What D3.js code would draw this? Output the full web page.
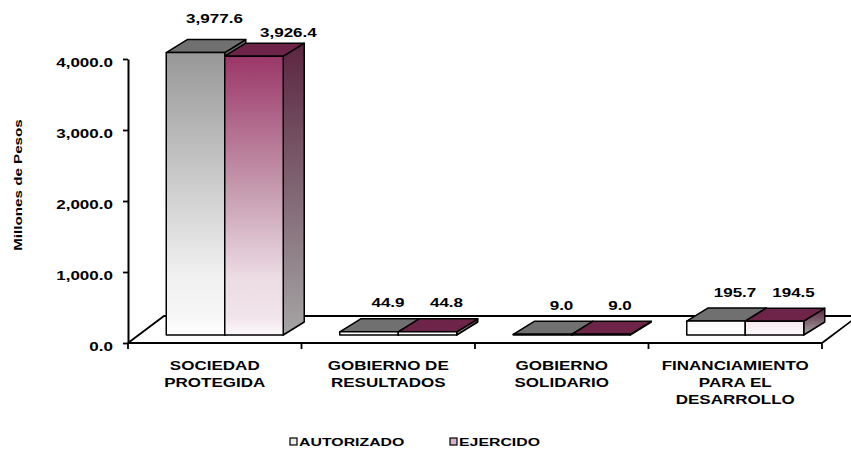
<!DOCTYPE html>
<html>
<head>
<meta charset="utf-8">
<script src="https://cdn.jsdelivr.net/npm/d3@7/dist/d3.min.js"></script>
<style>
  html, body { margin: 0; padding: 0; background: #fff; }
  svg { display: block; }
  text { font-family: "Liberation Sans", Arial, sans-serif; font-weight: bold; fill: #000; }
</style>
</head>
<body>
<svg id="chart" width="851" height="451"></svg>
<script>
// ---- data ----
const categories = ["SOCIEDAD PROTEGIDA", "GOBIERNO DE RESULTADOS", "GOBIERNO SOLIDARIO", "FINANCIAMIENTO PARA EL DESARROLLO"];
const categoryLines = [["SOCIEDAD", "PROTEGIDA"], ["GOBIERNO DE", "RESULTADOS"], ["GOBIERNO", "SOLIDARIO"], ["FINANCIAMIENTO", "PARA EL", "DESARROLLO"]];
const seriesNames = ["AUTORIZADO", "EJERCIDO"];
const autorizado = [3977.6, 44.9, 9.0, 195.7];
const ejercido = [3926.4, 44.8, 9.0, 194.5];
const yTicks = [0, 1000, 2000, 3000, 4000];
const yTitle = "Millones de Pesos";

// ---- layout ----
const svg = d3.select("#chart");
const SX = 1.42; // horizontal text stretch
const x = d3.scaleBand().domain(categories).range([128, 822]);
const y = d3.scaleLinear().domain([0, 4000]).range([343, 59]);
const xs = d3.scaleBand().domain(seriesNames).range([-58.5, 58.5]);
const floorD = { dx: 36, dy: -27 };   // floor depth
const barOff = { dx: 10, dy: -8 };    // bar front offset from front plane
const barD = { dx: 21, dy: -13 };     // bar depth

const defs = svg.append("defs");
function grad(id, stops, user) {
  const g = defs.append("linearGradient").attr("id", id)
    .attr("x1", 0).attr("x2", 0);
  if (user) {
    g.attr("gradientUnits", "userSpaceOnUse")
      .attr("y1", y(4000) + barOff.dy).attr("y2", y(0) + barOff.dy);
  } else {
    g.attr("y1", 0).attr("y2", 1);
  }
  stops.forEach(([o, c]) => g.append("stop").attr("offset", o).attr("stop-color", c));
}
grad("frontA", [[0, "#979797"], [0.5, "#d0d0d0"], [0.8, "#f1f1f1"], [0.93, "#f6f6f6"], [1, "#ffffff"]], true);
grad("frontE", [[0, "#993366"], [0.5, "#c79db1"], [0.8, "#ecdce4"], [0.93, "#f1e3ea"], [1, "#fcf7fa"]], true);
grad("sideA", [[0, "#6a6a6a"], [1, "#a6a6a6"]], false);
grad("sideE", [[0, "#5b2540"], [1, "#a5a5a5"]], false);
const styles = {
  AUTORIZADO: { front: "url(#frontA)", side: "url(#sideA)", top: "#707070", legend: "#ececec" },
  EJERCIDO: { front: "url(#frontE)", side: "url(#sideE)", top: "#6e2449", legend: "#d8b2c5" }
};

// ---- floor (3D base) ----
const x0 = x.range()[0], x1 = x.range()[1], yb = y(0);
const floor = svg.append("g").attr("stroke", "#000").attr("stroke-width", 1.8).attr("fill", "none");
floor.append("path").attr("d", `M${x0},${yb}L${x0 + floorD.dx},${yb + floorD.dy}L${x1 + floorD.dx},${yb + floorD.dy}`);
floor.append("path").attr("d", `M${x1},${yb}L${x1 + floorD.dx},${yb + floorD.dy}`);

// ---- bars ----
const data = categories.map((c, i) => ({ cat: c, vals: [autorizado[i], ejercido[i]] }));
const barsG = svg.append("g").attr("stroke", "#000").attr("stroke-width", 1.5).attr("stroke-linejoin", "round");
const labelGroups = [];
data.forEach(d => {
  const cx = x(d.cat) + x.bandwidth() / 2 + barOff.dx;
  const grp = [];
  seriesNames.forEach((s, si) => {
    const v = d.vals[si];
    const bx0 = cx + xs(s), bx1 = bx0 + xs.bandwidth();
    const byb = y(0) + barOff.dy, byt = y(v) + barOff.dy;
    const st = styles[s];
    const g = barsG.append("g");
    g.append("path").attr("fill", st.side)
      .attr("d", `M${bx1},${byt}L${bx1 + barD.dx},${byt + barD.dy}L${bx1 + barD.dx},${byb + barD.dy}L${bx1},${byb}Z`);
    g.append("path").attr("fill", st.top)
      .attr("d", `M${bx0},${byt}L${bx0 + barD.dx},${byt + barD.dy}L${bx1 + barD.dx},${byt + barD.dy}L${bx1},${byt}Z`);
    g.append("rect").attr("fill", st.front)
      .attr("x", bx0).attr("y", byt).attr("width", bx1 - bx0).attr("height", Math.max(byb - byt, 0.5));
    grp.push({ x: (bx0 + bx1) / 2 + 19, y: byt + barD.dy - 11.5, v });
  });
  labelGroups.push(grp);
});

// ---- value labels (with simple overlap avoidance) ----
const fmt = d3.format(",.1f");
const labG = svg.append("g");
labelGroups.forEach(grp => {
  const nodes = grp.map(l => labG.append("text").attr("text-anchor", "middle").attr("font-size", 12).text(fmt(l.v)));
  const w = nodes.map(n => n.node().getComputedTextLength() * SX);
  if (grp[1].x - grp[0].x < (w[0] + w[1]) / 2 + 4) {
    grp[0].y -= 5;
    grp[1].y += 5;
    grp[1].x = grp[0].x + (w[0] + w[1]) / 2 + 17;
  }
  nodes.forEach((n, i) => n.attr("transform", `translate(${grp[i].x},${grp[i].y}) scale(${SX},1)`));
});

// ---- y axis ----
const yAxis = svg.append("g").attr("transform", `translate(${x0},0)`)
  .call(d3.axisLeft(y).tickValues(yTicks).tickFormat(fmt).tickSize(5).tickSizeOuter(0));
yAxis.select(".domain").attr("stroke", "#000").attr("stroke-width", 2);
yAxis.selectAll(".tick line").attr("stroke", "#000").attr("stroke-width", 1.8);
yAxis.selectAll(".tick text")
  .attr("x", null).attr("dy", "0.6em")
  .attr("transform", `translate(-15,0) scale(${SX},1)`)
  .attr("font-size", 12).attr("font-family", null).attr("fill", "#000");
yAxis.attr("font-family", null).attr("font-size", null);

// ---- x axis ticks ----
const xTickPos = categories.map(c => x(c)).concat([x1]);
svg.append("g").attr("stroke", "#000").attr("stroke-width", 1.8)
  .selectAll("line").data(xTickPos).join("line")
  .attr("x1", d => d).attr("x2", d => d).attr("y1", yb).attr("y2", yb + 6);
svg.append("line").attr("stroke", "#000").attr("stroke-width", 2)
  .attr("x1", x0).attr("x2", x1).attr("y1", yb).attr("y2", yb);

// ---- category labels ----
const catG = svg.append("g");
categories.forEach((c, i) => {
  const cx = x(c) + x.bandwidth() / 2;
  categoryLines[i].forEach((line, li) => {
    catG.append("text").attr("text-anchor", "middle").attr("font-size", 12)
      .attr("transform", `translate(${cx},${369.5 + li * 17}) scale(${SX},1)`)
      .text(line);
  });
});

// ---- y title ----
svg.append("text").attr("text-anchor", "middle").attr("font-size", 11)
  .attr("transform", `translate(22,185) rotate(-90) scale(1.38,1)`)
  .text(yTitle);

// ---- legend ----
const legendX = [290, 450];
const lg = svg.append("g");
seriesNames.forEach((s, i) => {
  lg.append("rect").attr("x", legendX[i]).attr("y", 438).attr("width", 7).attr("height", 7)
    .attr("fill", styles[s].legend).attr("stroke", "#000").attr("stroke-width", 1.2);
  lg.append("text").attr("font-size", 11.5)
    .attr("transform", `translate(${legendX[i] + 9},446) scale(1.38,1)`)
    .text(s);
});
</script>
</body>
</html>
